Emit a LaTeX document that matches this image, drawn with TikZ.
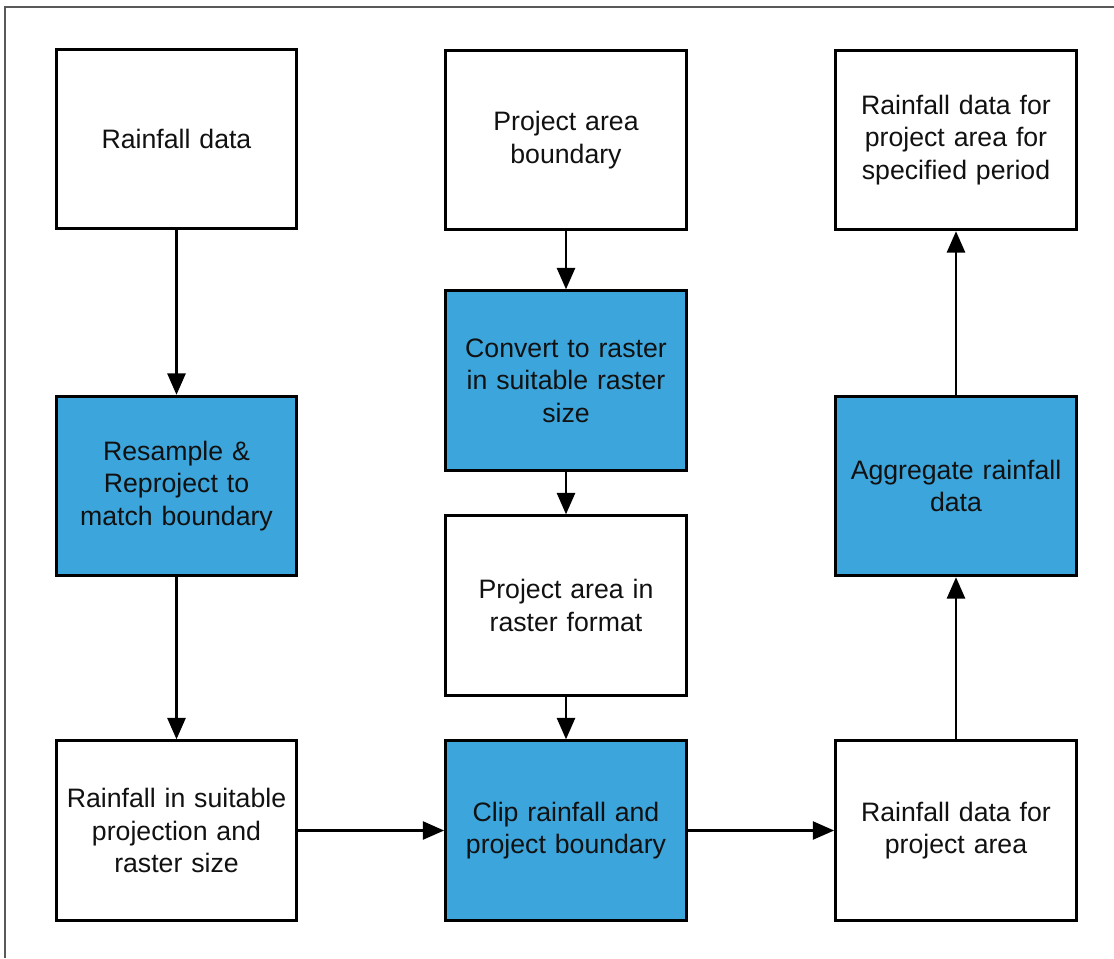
\documentclass[tikz,border=0pt]{standalone}
\usepackage{fontspec}
\setmainfont{Liberation Sans}
\usetikzlibrary{arrows.meta}
\definecolor{stepblue}{RGB}{59,165,220}
\definecolor{inktext}{RGB}{17,17,17}
\tikzset{
  box/.style={draw=black, line width=2.3pt, fill=white, minimum width=180.5pt,
    minimum height=134.5pt, inner sep=0pt, align=center, text=inktext,
    font=\fontsize{20}{24.4}\selectfont, text width=170pt},
  bluebox/.style={box, fill=stepblue},
  flow/.style={draw=black, line width=1.9pt,
    -{Triangle[length=16pt, width=13.5pt]}},
  frame/.style={draw=black!65, line width=1.1pt}
}
\begin{document}
\begin{tikzpicture}[x=0.75pt, y=-0.75pt]
\useasboundingbox (0,0) rectangle (1114,958);
% outer frame
\draw[frame] (5,958) -- (5,7) -- (1114,7);

% left column
\node[box]     (rain)   at (176.5,139)   {Rainfall data};
\node[bluebox] (resamp) at (176.5,486)   {Resample \&\\Reproject to\\match boundary};
\node[box]     (suit)   at (176.5,830.5) {Rainfall in suitable\\projection and\\raster size};

% middle column
\node[box]     (bound)  at (566,140)     {Project area\\boundary};
\node[bluebox] (conv)   at (566,380.5)   {Convert to raster\\in suitable raster\\size};
\node[box]     (rast)   at (566,605.5)   {Project area in\\raster format};
\node[bluebox] (clip)   at (566,830.5)   {Clip rainfall and\\project boundary};

% right column
\node[box]     (result) at (956,140)     {Rainfall data for\\project area for\\specified period};
\node[bluebox] (aggr)   at (956,486)     {Aggregate rainfall\\data};
\node[box]     (area)   at (956,830.5)   {Rainfall data for\\project area};

% connectors
\draw[flow] (rain) -- (resamp);
\draw[flow] (resamp) -- (suit);
\draw[flow] (bound) -- (conv);
\draw[flow] (conv) -- (rast);
\draw[flow] (rast) -- (clip);
\draw[flow] (suit) -- (clip);
\draw[flow] (clip) -- (area);
\draw[flow] (area) -- (aggr);
\draw[flow] (aggr) -- (result);
\end{tikzpicture}
\end{document}
